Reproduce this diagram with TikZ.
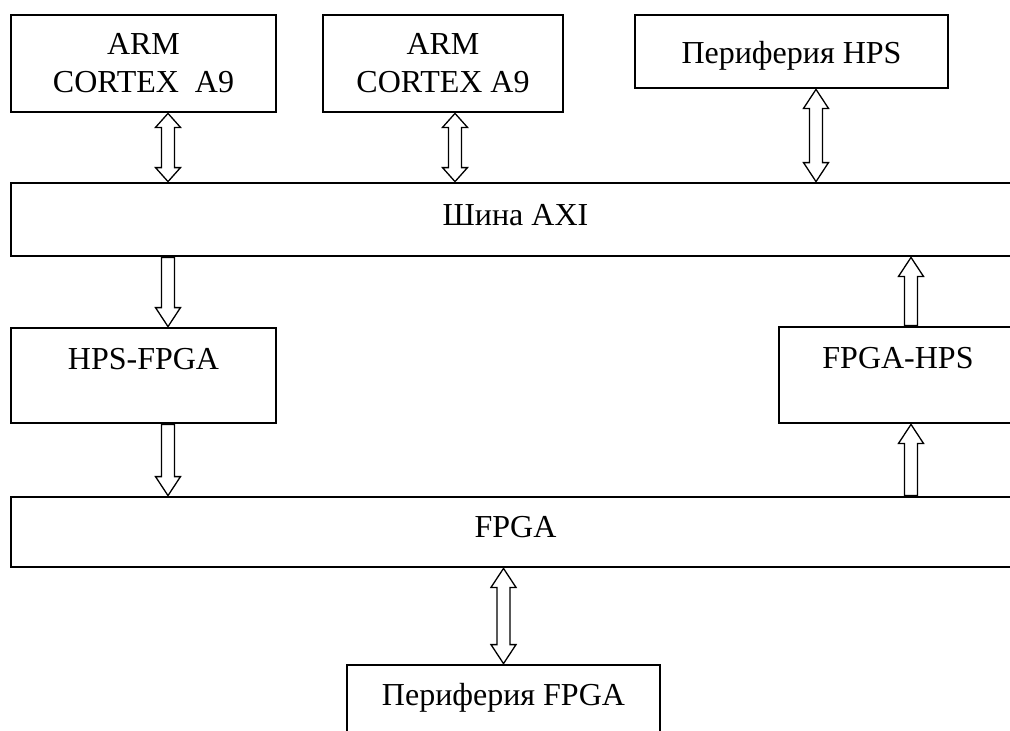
\documentclass[tikz,border=0pt]{standalone}
\usepackage{fontspec}
\setmainfont{Liberation Serif}
\usetikzlibrary{calc}
\begin{document}
\begin{tikzpicture}[x=1pt,y=-1pt,
  blk/.style={draw,line width=2.8pt,inner sep=0pt,align=center,
    font=\fontsize{32}{38}\selectfont},
  arr/.style={draw,fill=white,line width=1.3pt,line join=miter}]%
% HPS / FPGA block scheme, y axis runs downward
\def\dblarr#1#2#3{\draw[arr] (#1)
 --++(12.5,#3) --++(-6,0)
 --($(#2)+(6.5,-#3)$) --++(6,0)
 --(#2) --++(-12.5,-#3) --++(6,0)
 --($(#1)+(-6.5,#3)$) --++(-6,0) --cycle;}
\def\onearr#1#2#3{\draw[arr] ($(#1)+(-6.5,0)$)
 --($(#2)+(-6.5,#3)$) --++(-6,0)
 --(#2) --++(12.5,#3) --++(-6,0)
 --($(#1)+(6.5,0)$) --cycle;}
\useasboundingbox (0,0) rectangle (1010,731);
\clip (0,0) rectangle (1010,731);
\node[blk,minimum width=265,minimum height=97] (arm1) at (143.5,63.5)
 {ARM\\CORTEX\ \ A9};
\node[blk,minimum width=240,minimum height=97] (arm2) at (443,63.5)
 {ARM\\CORTEX A9};
\node[blk,minimum width=313,minimum height=73,text height=23pt,text depth=0pt]
 (perhps) at (791.5,51.5) {Периферия HPS};
\node[blk,minimum width=1009,minimum height=73,text height=21pt,text depth=10pt]
 (axi) at (515.5,219.5) {Шина AXI};
\node[blk,minimum width=265,minimum height=95,text height=21pt,text depth=34pt]
 (hpsfpga) at (143.5,375.5) {HPS-FPGA};
\node[blk,minimum width=238,minimum height=96,text height=21pt,text depth=35pt]
 (fpgahps) at (898,375) {FPGA-HPS};
\node[blk,minimum width=1009,minimum height=70,text height=21pt,text depth=11pt]
 (fpga) at (515.5,532) {FPGA};
\node[blk,minimum width=313,minimum height=73,text height=21pt,text depth=14pt]
 (perfpga) at (503.5,701.5) {Периферия FPGA};
\coordinate (c1) at (168,0);
\coordinate (c2) at (455,0);
\coordinate (c3) at (816,0);
\coordinate (c4) at (911,0);
\dblarr{c1 |- arm1.south}{c1 |- axi.north}{14}
\dblarr{c2 |- arm2.south}{c2 |- axi.north}{14}
\dblarr{c3 |- perhps.south}{c3 |- axi.north}{19}
\dblarr{perfpga.north |- fpga.south}{perfpga.north}{19}
\onearr{c1 |- axi.south}{c1 |- hpsfpga.north}{-19}
\onearr{c1 |- hpsfpga.south}{c1 |- fpga.north}{-19}
\onearr{c4 |- fpga.north}{c4 |- fpgahps.south}{19}
\onearr{c4 |- fpgahps.north}{c4 |- axi.south}{19}
\end{tikzpicture}
\end{document}
